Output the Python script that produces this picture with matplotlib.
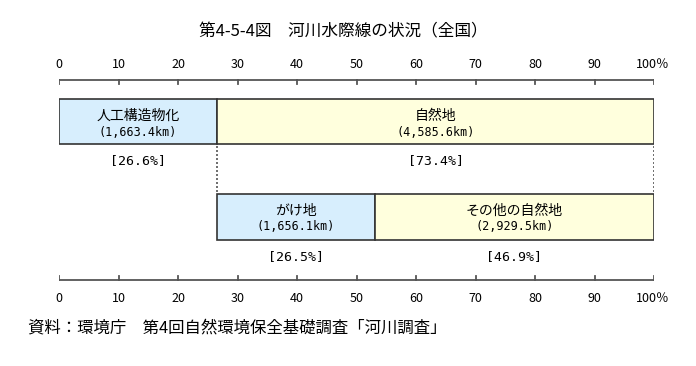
import matplotlib.pyplot as plt

plt.rcParams['font.family'] = ['Noto Sans CJK JP', 'DejaVu Sans']

# data (percent shares and km lengths)
top_labels = ['人工構造物化', '自然地']
top_km = ['1,663.4', '4,585.6']
top_pct = [26.6, 73.4]

sub_labels = ['がけ地', 'その他の自然地']
sub_km = ['1,656.1', '2,929.5']
sub_pct = [26.5, 46.9]

ticks = [0, 10, 20, 30, 40, 50, 60, 70, 80, 90, 100]
colors = ['#D7EEFD', '#FFFFDD']

fig = plt.figure(figsize=(6.96, 3.66), dpi=100)
# axes: x in percent, y in pixel rows of the figure
ax = fig.add_axes([59 / 696, 0, 595 / 696, 1])
ax.set_xlim(0, 100)
ax.set_ylim(366, 0)
ax.axis('off')

mono = ['DejaVu Sans Mono', 'Noto Sans CJK JP']
edge = '#333333'


def draw_row(labels, km, pct, start, y0, h):
    left = start
    for lab, k, p, c in zip(labels, km, pct, colors):
        ax.barh(y0 + h / 2, p, height=h, left=left, color=c, edgecolor=edge, linewidth=1.2)
        cx = left + p / 2
        ax.text(cx, y0 + 17, lab, ha='center', va='center', fontsize=10)
        ax.text(cx, y0 + 33, f'({k}km)', ha='center', va='center', fontsize=8.5, family=mono)
        ax.text(cx, y0 + h + 17, f'[{p:.1f}%]', ha='center', va='center', fontsize=9.5, family=mono)
        left += p


draw_row(top_labels, top_km, top_pct, 0, 99, 45)
draw_row(sub_labels, sub_km, sub_pct, top_pct[0], 194, 46)

# dotted guide lines between bars
for xv in [top_pct[0], 100]:
    ax.plot([xv, xv], [146, 192], color='#555555', linestyle=(0, (1.2, 1.2)), linewidth=1.2)


def draw_axis(yl, direction, ylab):
    ax.plot([0, 100], [yl, yl], color='#555555', linewidth=1.3, solid_capstyle='butt')
    for t in ticks:
        ax.plot([t, t], [yl, yl + 4 * direction], color='#555555', linewidth=1.3)
        if t == 100:
            ax.text(97.0, ylab, '100％', ha='left', va='center', fontsize=9, clip_on=False)
        else:
            ax.text(t, ylab, str(t), ha='center', va='center', fontsize=9)


draw_axis(80, 1, 65)
draw_axis(280, -1, 299)

fig.text(343 / 696, 1 - 32 / 366, '第4-5-4図　河川水際線の状況（全国）', ha='center', va='center', fontsize=12)
fig.text(28 / 696, 1 - 328 / 366, '資料：環境庁　第4回自然環境保全基礎調査「河川調査」', ha='left', va='center', fontsize=11.8)

fig.savefig('out.png', dpi=100)
